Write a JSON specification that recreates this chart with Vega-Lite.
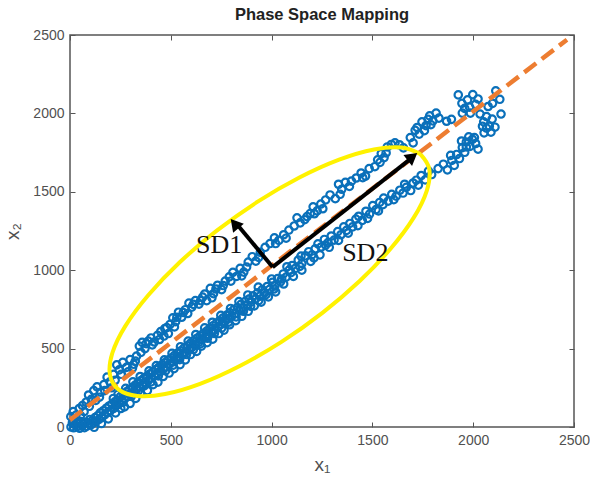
{"$schema":"https://vega.github.io/schema/vega-lite/v6.json","width":504,"height":392,"autosize":{"type":"none"},"padding":{"left":70,"top":35,"right":16,"bottom":53},"background":"white","title":{"text":"Phase Space Mapping","fontSize":16.5,"font":"Liberation Sans","fontWeight":"bold","color":"#222222","offset":5},"view":{"stroke":"#555555","strokeWidth":1.5},"config":{"axis":{"grid":false,"domain":false,"tickColor":"#555555","tickSize":-5,"labelColor":"#505050","titleColor":"#505050","labelFont":"Liberation Sans","titleFont":"Liberation Sans","labelFontSize":14,"titleFontSize":19,"titleFontWeight":"normal","labelPadding":11,"format":"d","labelFlush":false,"labelOverlap":false}},"resolve":{"axis":{"x":"independent","y":"independent"}},"layer":[{"data":{"values":[{"x":5,"y":0},{"x":12,"y":28},{"x":18,"y":-5},{"x":25,"y":14},{"x":30,"y":40},{"x":36,"y":2},{"x":42,"y":22},{"x":48,"y":-8},{"x":55,"y":35},{"x":60,"y":8},{"x":66,"y":20},{"x":72,"y":-4},{"x":78,"y":30},{"x":84,"y":6},{"x":92,"y":24},{"x":98,"y":48},{"x":104,"y":14},{"x":110,"y":40},{"x":118,"y":28},{"x":124,"y":60},{"x":130,"y":36},{"x":138,"y":72},{"x":144,"y":48},{"x":150,"y":90},{"x":158,"y":62},{"x":165,"y":104},{"x":172,"y":78},{"x":180,"y":120},{"x":186,"y":92},{"x":194,"y":134},{"x":200,"y":104},{"x":208,"y":146},{"x":215,"y":118},{"x":222,"y":160},{"x":230,"y":136},{"x":236,"y":172},{"x":244,"y":150},{"x":250,"y":194},{"x":258,"y":168},{"x":265,"y":208},{"x":272,"y":184},{"x":280,"y":224},{"x":286,"y":196},{"x":294,"y":238},{"x":300,"y":212},{"x":308,"y":250},{"x":316,"y":226},{"x":322,"y":266},{"x":330,"y":240},{"x":336,"y":280},{"x":344,"y":256},{"x":352,"y":296},{"x":358,"y":268},{"x":366,"y":310},{"x":374,"y":284},{"x":380,"y":322},{"x":388,"y":296},{"x":396,"y":338},{"x":402,"y":312},{"x":410,"y":352},{"x":418,"y":326},{"x":425,"y":366},{"x":432,"y":342},{"x":440,"y":380},{"x":448,"y":354},{"x":456,"y":396},{"x":464,"y":372},{"x":470,"y":410},{"x":478,"y":384},{"x":486,"y":426},{"x":494,"y":402},{"x":502,"y":440},{"x":510,"y":416},{"x":518,"y":456},{"x":526,"y":430},{"x":534,"y":472},{"x":542,"y":448},{"x":550,"y":486},{"x":558,"y":462},{"x":566,"y":504},{"x":574,"y":478},{"x":582,"y":518},{"x":590,"y":494},{"x":598,"y":534},{"x":606,"y":510},{"x":614,"y":550},{"x":622,"y":526},{"x":630,"y":566},{"x":638,"y":540},{"x":646,"y":582},{"x":654,"y":558},{"x":662,"y":598},{"x":670,"y":574},{"x":678,"y":612},{"x":686,"y":590},{"x":694,"y":630},{"x":702,"y":606},{"x":710,"y":646},{"x":718,"y":620},{"x":726,"y":662},{"x":734,"y":638},{"x":742,"y":678},{"x":750,"y":654},{"x":758,"y":694},{"x":768,"y":672},{"x":776,"y":712},{"x":784,"y":690},{"x":792,"y":730},{"x":802,"y":706},{"x":812,"y":748},{"x":820,"y":724},{"x":830,"y":762},{"x":840,"y":742},{"x":848,"y":782},{"x":858,"y":760},{"x":868,"y":800},{"x":878,"y":778},{"x":888,"y":816},{"x":898,"y":796},{"x":908,"y":836},{"x":920,"y":816},{"x":930,"y":856},{"x":942,"y":834},{"x":954,"y":876},{"x":966,"y":856},{"x":978,"y":896},{"x":990,"y":878},{"x":1004,"y":922},{"x":1016,"y":898},{"x":1030,"y":946},{"x":1044,"y":926},{"x":1058,"y":976},{"x":1072,"y":956},{"x":1088,"y":1002},{"x":1102,"y":1030},{"x":1118,"y":1012},{"x":1132,"y":1064},{"x":1150,"y":1042},{"x":1168,"y":1092},{"x":1184,"y":1118},{"x":1200,"y":1098},{"x":1216,"y":1136},{"x":1230,"y":1168},{"x":1246,"y":1148},{"x":1262,"y":1196},{"x":1280,"y":1176},{"x":1296,"y":1218},{"x":1310,"y":1192},{"x":1328,"y":1246},{"x":1344,"y":1226},{"x":1358,"y":1276},{"x":1372,"y":1254},{"x":1388,"y":1298},{"x":1402,"y":1276},{"x":1418,"y":1326},{"x":1432,"y":1344},{"x":1450,"y":1318},{"x":1468,"y":1376},{"x":1486,"y":1358},{"x":1502,"y":1412},{"x":1518,"y":1386},{"x":1536,"y":1432},{"x":1556,"y":1460},{"x":1578,"y":1440},{"x":1596,"y":1484},{"x":1618,"y":1472},{"x":1636,"y":1510},{"x":1652,"y":1492},{"x":1668,"y":1528},{"x":1690,"y":1508},{"x":1702,"y":1556},{"x":1728,"y":1542},{"x":1742,"y":1604},{"x":1762,"y":1576},{"x":1778,"y":1632},{"x":1794,"y":1610},{"x":1826,"y":1648},{"x":1852,"y":1676},{"x":1872,"y":1640},{"x":1894,"y":1700},{"x":1906,"y":1668},{"x":1918,"y":1738},{"x":1932,"y":1712},{"x":1946,"y":1782},{"x":1958,"y":1752},{"x":1966,"y":1818},{"x":1984,"y":1790},{"x":1996,"y":1834},{"x":2012,"y":1808},{"x":2024,"y":1772},{"x":4,"y":66},{"x":16,"y":98},{"x":30,"y":76},{"x":46,"y":118},{"x":62,"y":136},{"x":80,"y":158},{"x":92,"y":204},{"x":106,"y":176},{"x":118,"y":232},{"x":134,"y":256},{"x":152,"y":222},{"x":168,"y":270},{"x":184,"y":318},{"x":198,"y":288},{"x":216,"y":336},{"x":232,"y":396},{"x":244,"y":364},{"x":262,"y":412},{"x":280,"y":380},{"x":298,"y":430},{"x":316,"y":400},{"x":330,"y":452},{"x":344,"y":516},{"x":358,"y":540},{"x":372,"y":500},{"x":388,"y":548},{"x":402,"y":568},{"x":418,"y":542},{"x":434,"y":584},{"x":450,"y":608},{"x":466,"y":580},{"x":480,"y":634},{"x":496,"y":654},{"x":510,"y":696},{"x":524,"y":672},{"x":538,"y":732},{"x":554,"y":700},{"x":572,"y":748},{"x":590,"y":790},{"x":604,"y":764},{"x":622,"y":806},{"x":640,"y":784},{"x":658,"y":828},{"x":678,"y":806},{"x":696,"y":884},{"x":712,"y":850},{"x":732,"y":904},{"x":752,"y":876},{"x":770,"y":930},{"x":790,"y":958},{"x":808,"y":986},{"x":826,"y":960},{"x":844,"y":1012},{"x":862,"y":988},{"x":884,"y":1052},{"x":904,"y":1086},{"x":922,"y":1058},{"x":944,"y":1114},{"x":968,"y":1146},{"x":992,"y":1170},{"x":1014,"y":1206},{"x":1036,"y":1190},{"x":1060,"y":1226},{"x":1086,"y":1256},{"x":1112,"y":1282},{"x":1126,"y":1334},{"x":1142,"y":1302},{"x":1164,"y":1322},{"x":1192,"y":1362},{"x":1206,"y":1404},{"x":1226,"y":1378},{"x":1244,"y":1422},{"x":1268,"y":1448},{"x":1290,"y":1480},{"x":1316,"y":1456},{"x":1332,"y":1548},{"x":1348,"y":1516},{"x":1366,"y":1560},{"x":1386,"y":1534},{"x":1420,"y":1588},{"x":1444,"y":1620},{"x":1466,"y":1600},{"x":1484,"y":1648},{"x":1512,"y":1660},{"x":1526,"y":1704},{"x":1544,"y":1744},{"x":1558,"y":1718},{"x":1574,"y":1786},{"x":1594,"y":1802},{"x":1612,"y":1812},{"x":1634,"y":1800},{"x":1654,"y":1780},{"x":1688,"y":1846},{"x":1702,"y":1812},{"x":1712,"y":1892},{"x":1732,"y":1868},{"x":1746,"y":1946},{"x":1766,"y":1922},{"x":1784,"y":1984},{"x":1800,"y":1952},{"x":1816,"y":2002},{"x":1830,"y":1970},{"x":1868,"y":1950},{"x":1892,"y":1962},{"x":1926,"y":2118},{"x":1944,"y":2064},{"x":1958,"y":2032},{"x":1972,"y":2086},{"x":1986,"y":2002},{"x":1998,"y":2120},{"x":2012,"y":2058},{"x":2034,"y":1996},{"x":2052,"y":1946},{"x":2066,"y":1980},{"x":2080,"y":1918},{"x":2094,"y":1964},{"x":2054,"y":1876},{"x":2108,"y":1912},{"x":2112,"y":2144},{"x":2132,"y":2090},{"x":2138,"y":1996},{"x":2096,"y":2064},{"x":2074,"y":2044},{"x":120,"y":-2},{"x":156,"y":22},{"x":190,"y":52},{"x":226,"y":90},{"x":252,"y":118},{"x":270,"y":128},{"x":298,"y":150},{"x":326,"y":182},{"x":350,"y":214},{"x":384,"y":232},{"x":412,"y":270},{"x":436,"y":286},{"x":462,"y":322},{"x":492,"y":344},{"x":516,"y":372},{"x":546,"y":398},{"x":572,"y":428},{"x":598,"y":462},{"x":628,"y":482},{"x":652,"y":516},{"x":680,"y":538},{"x":708,"y":560},{"x":738,"y":596},{"x":764,"y":618},{"x":792,"y":652},{"x":822,"y":678},{"x":852,"y":706},{"x":884,"y":738},{"x":914,"y":772},{"x":948,"y":796},{"x":984,"y":830},{"x":1020,"y":862},{"x":1060,"y":912},{"x":1108,"y":960},{"x":1150,"y":1000},{"x":1194,"y":1056},{"x":1240,"y":1098},{"x":1286,"y":1146},{"x":1332,"y":1190},{"x":1380,"y":1236},{"x":1428,"y":1284},{"x":1476,"y":1330},{"x":1530,"y":1378},{"x":215,"y":182},{"x":238,"y":208},{"x":276,"y":246},{"x":312,"y":288},{"x":348,"y":322},{"x":392,"y":358},{"x":428,"y":392},{"x":468,"y":428},{"x":506,"y":470},{"x":548,"y":512},{"x":586,"y":548},{"x":624,"y":590},{"x":668,"y":632},{"x":706,"y":668},{"x":748,"y":712},{"x":796,"y":756},{"x":838,"y":800},{"x":882,"y":842},{"x":934,"y":892},{"x":1000,"y":944},{"x":1076,"y":1022},{"x":1146,"y":1090},{"x":52,"y":72},{"x":70,"y":98},{"x":96,"y":132},{"x":128,"y":170},{"x":146,"y":190},{"x":172,"y":232},{"x":206,"y":250},{"x":224,"y":298},{"x":254,"y":336},{"x":288,"y":352},{"x":310,"y":376},{"x":324,"y":420},{"x":352,"y":476},{"x":378,"y":532},{"x":408,"y":524},{"x":444,"y":558},{"x":470,"y":628},{"x":488,"y":596},{"x":518,"y":638},{"x":530,"y":700},{"x":562,"y":730},{"x":584,"y":724},{"x":612,"y":782},{"x":648,"y":806},{"x":668,"y":848},{"x":704,"y":824},{"x":724,"y":880},{"x":760,"y":902},{"x":798,"y":930},{"x":852,"y":964},{"x":876,"y":1020},{"x":936,"y":1082},{"x":1020,"y":1170},{"x":1072,"y":1204},{"x":1176,"y":1342},{"x":1212,"y":1360},{"x":1254,"y":1392},{"x":1340,"y":1484},{"x":1396,"y":1568},{"x":1452,"y":1590},{"x":1538,"y":1688},{"x":1568,"y":1748},{"x":1722,"y":1910},{"x":1758,"y":1890},{"x":1790,"y":1928},{"x":1776,"y":1962},{"x":1946,"y":2002},{"x":1982,"y":2040},{"x":2024,"y":2092},{"x":2046,"y":1918},{"x":2066,"y":1906},{"x":2088,"y":1880},{"x":1966,"y":1786},{"x":1942,"y":1824},{"x":1978,"y":1850},{"x":2006,"y":1846},{"x":1888,"y":1732},{"x":1552,"y":1418},{"x":1606,"y":1450},{"x":1660,"y":1548},{"x":1718,"y":1574},{"x":232,"y":148},{"x":262,"y":158},{"x":304,"y":196},{"x":340,"y":232},{"x":368,"y":262},{"x":402,"y":288},{"x":438,"y":326},{"x":474,"y":358},{"x":512,"y":394},{"x":544,"y":430},{"x":578,"y":462},{"x":612,"y":494},{"x":646,"y":530},{"x":682,"y":566},{"x":716,"y":596},{"x":752,"y":630},{"x":786,"y":668},{"x":824,"y":702},{"x":860,"y":738},{"x":896,"y":770},{"x":936,"y":806},{"x":972,"y":844},{"x":1012,"y":880},{"x":1050,"y":944},{"x":1096,"y":984},{"x":1140,"y":1024},{"x":1210,"y":1078},{"x":1268,"y":1160}]},"mark":{"type":"point","filled":false,"stroke":"#0A70BA","strokeWidth":2.2,"size":55,"opacity":1,"clip":false},"encoding":{"x":{"field":"x","type":"quantitative","scale":{"domain":[0,2500],"nice":false},"axis":{"title":"x₁","orient":"bottom","values":[0,500,1000,1500,2000,2500],"titlePadding":8}},"y":{"field":"y","type":"quantitative","scale":{"domain":[0,2500],"nice":false},"axis":{"title":"x₂","orient":"left","values":[0,500,1000,1500,2000,2500],"titlePadding":10}}}},{"data":{"values":[{"x":0,"y":45},{"x":2465,"y":2470}]},"mark":{"type":"line","stroke":"#ED7D31","strokeWidth":4.5,"strokeDash":[15,7]},"encoding":{"x":{"field":"x","type":"quantitative","scale":{"domain":[0,2500],"nice":false},"axis":{"orient":"top","labels":false,"title":null,"values":[0,500,1000,1500,2000,2500]}},"y":{"field":"y","type":"quantitative","scale":{"domain":[0,2500],"nice":false},"axis":{"orient":"right","labels":false,"title":null,"values":[0,500,1000,1500,2000,2500]}}}},{"data":{"values":[{"o":0,"x":1739,"y":1739},{"o":1,"x":1646,"y":1782},{"o":2,"x":1508,"y":1770},{"o":3,"x":1335,"y":1705},{"o":4,"x":1138,"y":1591},{"o":5,"x":931,"y":1437},{"o":6,"x":728,"y":1252},{"o":7,"x":543,"y":1049},{"o":8,"x":389,"y":842},{"o":9,"x":275,"y":645},{"o":10,"x":210,"y":472},{"o":11,"x":198,"y":334},{"o":12,"x":240,"y":240},{"o":13,"x":334,"y":198},{"o":14,"x":472,"y":210},{"o":15,"x":645,"y":275},{"o":16,"x":842,"y":389},{"o":17,"x":1049,"y":543},{"o":18,"x":1252,"y":728},{"o":19,"x":1437,"y":931},{"o":20,"x":1591,"y":1138},{"o":21,"x":1705,"y":1335},{"o":22,"x":1770,"y":1508},{"o":23,"x":1782,"y":1646},{"o":24,"x":1739,"y":1739}]},"mark":{"type":"line","stroke":"#FFF200","strokeWidth":4,"interpolate":"cardinal"},"encoding":{"x":{"field":"x","type":"quantitative","scale":{"domain":[0,2500],"nice":false},"axis":null},"y":{"field":"y","type":"quantitative","scale":{"domain":[0,2500],"nice":false},"axis":null},"order":{"field":"o","type":"ordinal"}}},{"data":{"values":[{"x":1005,"y":1020},{"x":1680,"y":1700}]},"mark":{"type":"line","stroke":"black","strokeWidth":4},"encoding":{"x":{"field":"x","type":"quantitative","scale":{"domain":[0,2500],"nice":false},"axis":null},"y":{"field":"y","type":"quantitative","scale":{"domain":[0,2500],"nice":false},"axis":null}}},{"data":{"values":[{"x":1005,"y":1020},{"x":830,"y":1290}]},"mark":{"type":"line","stroke":"black","strokeWidth":4},"encoding":{"x":{"field":"x","type":"quantitative","scale":{"domain":[0,2500],"nice":false},"axis":null},"y":{"field":"y","type":"quantitative","scale":{"domain":[0,2500],"nice":false},"axis":null}}},{"data":{"values":[{"x":1697,"y":1722}]},"mark":{"type":"point","shape":"triangle-up","filled":true,"fill":"black","stroke":"black","opacity":1,"size":110,"angle":52},"encoding":{"x":{"field":"x","type":"quantitative","scale":{"domain":[0,2500],"nice":false},"axis":null},"y":{"field":"y","type":"quantitative","scale":{"domain":[0,2500],"nice":false},"axis":null}}},{"data":{"values":[{"x":818,"y":1295}]},"mark":{"type":"point","shape":"triangle-up","filled":true,"fill":"black","stroke":"black","opacity":1,"size":110,"angle":320},"encoding":{"x":{"field":"x","type":"quantitative","scale":{"domain":[0,2500],"nice":false},"axis":null},"y":{"field":"y","type":"quantitative","scale":{"domain":[0,2500],"nice":false},"axis":null}}},{"data":{"values":[{"x":625,"y":1160,"t":"SD1"},{"x":1350,"y":1110,"t":"SD2"}]},"mark":{"type":"text","font":"Liberation Serif","fontSize":26,"align":"left","baseline":"middle","color":"#111111"},"encoding":{"x":{"field":"x","type":"quantitative","scale":{"domain":[0,2500],"nice":false},"axis":null},"y":{"field":"y","type":"quantitative","scale":{"domain":[0,2500],"nice":false},"axis":null},"text":{"field":"t"}}}]}
